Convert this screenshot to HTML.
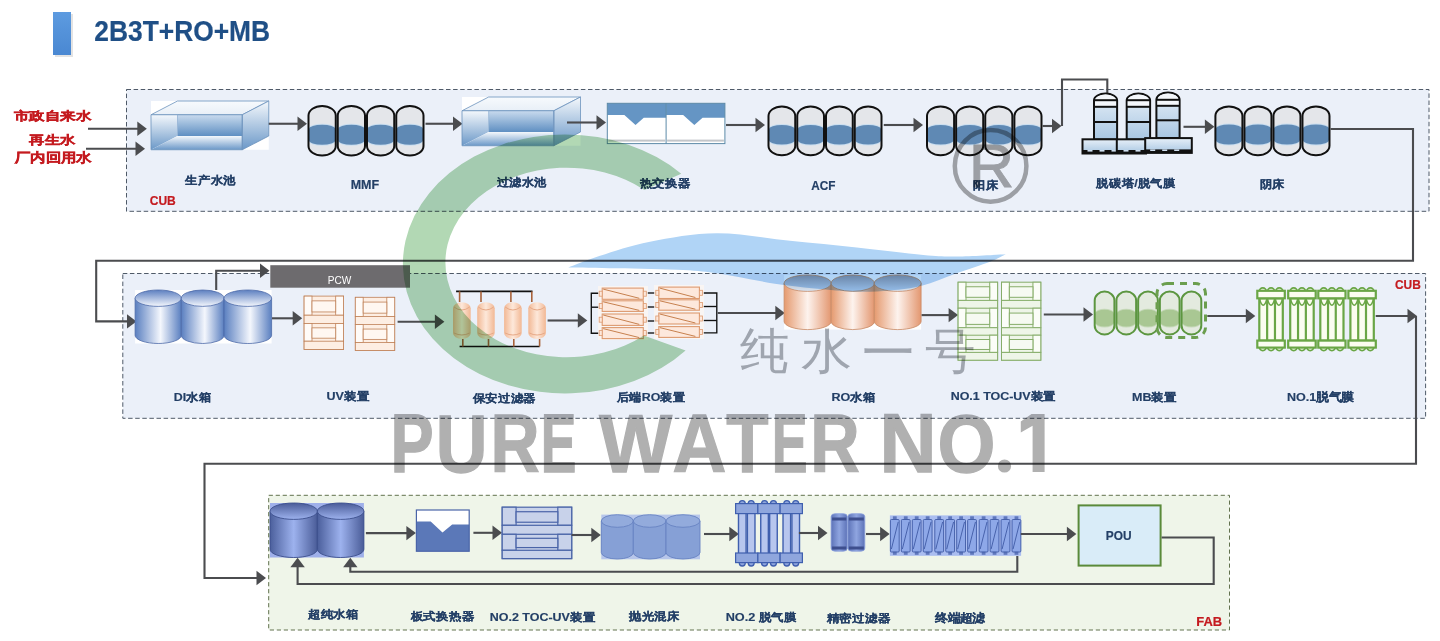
<!DOCTYPE html>
<html><head><meta charset="utf-8"><style>
html,body{margin:0;padding:0;background:#fff;overflow:hidden}
svg{display:block;font-family:"Liberation Sans",sans-serif}
</style></head><body>
<svg width="1440" height="641" viewBox="0 0 1440 641">

<defs>
 <linearGradient id="gBar" x1="0" y1="0" x2="0" y2="1">
  <stop offset="0" stop-color="#5d9be0"/><stop offset="1" stop-color="#4a88d2"/>
 </linearGradient>
 <linearGradient id="gBoxV" x1="0" y1="0" x2="0" y2="1">
  <stop offset="0" stop-color="#c9dbee"/><stop offset="1" stop-color="#5f8fc2"/>
 </linearGradient>
 <linearGradient id="gBoxV2" x1="0" y1="0" x2="0" y2="1">
  <stop offset="0" stop-color="#f4f8fc"/><stop offset="1" stop-color="#6b98c8"/>
 </linearGradient>
 <linearGradient id="gBoxTop" x1="0" y1="0" x2="0" y2="1">
  <stop offset="0" stop-color="#f7fafd"/><stop offset="1" stop-color="#e8eff7"/>
 </linearGradient>
 <linearGradient id="gTower" x1="0" y1="0" x2="0" y2="1">
  <stop offset="0" stop-color="#e6eff8"/><stop offset="1" stop-color="#a8c6e2"/>
 </linearGradient>
 <linearGradient id="gDI" x1="0" y1="0" x2="1" y2="0">
  <stop offset="0" stop-color="#5a7fc0"/><stop offset="0.55" stop-color="#f4f7fd"/><stop offset="1" stop-color="#5a7fc0"/>
 </linearGradient>
 <linearGradient id="gDItop" x1="0" y1="0" x2="0" y2="1">
  <stop offset="0" stop-color="#5c7fc0"/><stop offset="1" stop-color="#f4f7fd"/>
 </linearGradient>
 <linearGradient id="gRO" x1="0" y1="0" x2="1" y2="0">
  <stop offset="0" stop-color="#e59a6f"/><stop offset="0.5" stop-color="#fdf3ee"/><stop offset="1" stop-color="#e39770"/>
 </linearGradient>
 <linearGradient id="gROtop" x1="0" y1="0" x2="0" y2="1">
  <stop offset="0" stop-color="#9aa0ad"/><stop offset="1" stop-color="#d8e4f2"/>
 </linearGradient>
 <linearGradient id="gUP" x1="0" y1="0" x2="1" y2="0">
  <stop offset="0" stop-color="#4b5f9c"/><stop offset="0.5" stop-color="#9db2ee"/><stop offset="1" stop-color="#4a5c98"/>
 </linearGradient>
 <linearGradient id="gUPtop" x1="0" y1="0" x2="0" y2="1">
  <stop offset="0" stop-color="#4a5c98"/><stop offset="1" stop-color="#9db2ee"/>
 </linearGradient>
 <linearGradient id="gCart" x1="0" y1="0" x2="1" y2="0">
  <stop offset="0" stop-color="#f2b894"/><stop offset="0.5" stop-color="#fde8da"/><stop offset="1" stop-color="#f2b894"/>
 </linearGradient>
 <linearGradient id="gPf" x1="0" y1="0" x2="1" y2="0">
  <stop offset="0" stop-color="#5d73b8"/><stop offset="0.5" stop-color="#8fa5e0"/><stop offset="1" stop-color="#5d73b8"/>
 </linearGradient>
</defs>

<rect x="0" y="0" width="1440" height="641" fill="#ffffff"/>
<rect x="126.5" y="89.5" width="1302.5" height="121.8" fill="#ebf0f9" stroke="#4f5a68" stroke-width="1" stroke-dasharray="4.5 2.6"/>
<rect x="122.8" y="273.5" width="1302.8" height="144.8" fill="#ebf0f9" stroke="#4f5a68" stroke-width="1" stroke-dasharray="4.5 2.6"/>
<rect x="268.7" y="495.3" width="960.8" height="134.7" fill="#eff5e9" stroke="#62724e" stroke-width="1" stroke-dasharray="4.2 2.8"/>
<rect x="55" y="14" width="18" height="43" fill="#c8c8c8" opacity="0.5"/>
<rect x="53" y="12" width="18" height="43" fill="url(#gBar)"/>
<text transform="matrix(0.9422 0 0 1.0526 94.26 40.8)" font-size="28" font-weight="bold" fill="#1f4f86" stroke="#1f4f86" stroke-width="0.2" >2B3T+RO+MB</text>
<text transform="matrix(1.08 0 0 0.8357 13.5 119.63)" font-size="14" font-weight="bold" fill="#c41a1f" stroke="#c41a1f" stroke-width="0.5" >市政自来水</text>
<text transform="matrix(1.0881 0 0 0.8571 29.2 143.59)" font-size="14" font-weight="bold" fill="#c41a1f" stroke="#c41a1f" stroke-width="0.5" >再生水</text>
<text transform="matrix(1.0662 0 0 0.9 15.37 162.1)" font-size="14" font-weight="bold" fill="#c41a1f" stroke="#c41a1f" stroke-width="0.5" >厂内回用水</text>
<line x1="88" y1="128.7" x2="138.3" y2="128.7" stroke="#4b4c4f" stroke-width="2.1"/>
<path d="M137.3,121.49999999999999 L146.8,128.7 L137.3,135.89999999999998 Z" fill="#4b4c4f"/>
<line x1="86" y1="148.8" x2="136.5" y2="148.8" stroke="#4b4c4f" stroke-width="2.1"/>
<path d="M135.5,141.60000000000002 L145,148.8 L135.5,156.0 Z" fill="#4b4c4f"/>
<text transform="matrix(0.963 0 0 1.0222 149.7 205.1)" font-size="12.5" font-weight="bold" fill="#c41a1f" stroke="#c41a1f" stroke-width="0.2" >CUB</text>
<rect x="151" y="101" width="117.75" height="48.75" fill="#ffffff"/>
<path d="M151,114.75 L177.5,101 L268.75,101 L242.25,114.75 Z" fill="url(#gBoxTop)" stroke="#6b92bd" stroke-width="0.8"/>
<rect x="177.5" y="114.75" width="64.75" height="21.25" fill="url(#gBoxV)"/>
<path d="M151,114.75 L177.5,114.75 L177.5,136.0 L151,149.75 Z" fill="url(#gBoxV2)"/>
<path d="M151,149.75 L177.5,136.0 L242.25,136.0 L242.25,149.75 Z" fill="url(#gBoxV2)" />
<path d="M242.25,114.75 L268.75,101 L268.75,136.0 L242.25,149.75 Z" fill="url(#gBoxV2)" stroke="#6b92bd" stroke-width="0.8"/>
<path d="M151,114.75 L242.25,114.75 L242.25,149.75 L151,149.75 Z" fill="none" stroke="#6b92bd" stroke-width="0.8"/>
<line x1="177.5" y1="114.75" x2="177.5" y2="136.0" stroke="#8fb0d3" stroke-width="0.8"/>
<text transform="matrix(1.0187 0 0 0.9083 185.3 184.38)" font-size="12.3" font-weight="bold" fill="#233f66" stroke="#233f66" stroke-width="0.18" >生产水池</text>
<line x1="268.75" y1="123.75" x2="298.5" y2="123.75" stroke="#4b4c4f" stroke-width="2.1"/>
<path d="M297.5,116.55 L307,123.75 L297.5,130.95 Z" fill="#4b4c4f"/>
<rect x="308.50" y="106.00" width="27.25" height="49.50" rx="13.62" ry="9.5" fill="#e4e6ea"/>
<rect x="309.00" y="123.80" width="26.25" height="22.00" rx="13.62" ry="4.2" fill="#c9def0"/>
<rect x="309.00" y="124.80" width="26.25" height="20.00" rx="13.62" ry="4.2" fill="#5f89b4"/>
<rect x="308.50" y="106.00" width="27.25" height="49.50" rx="13.62" ry="9.5" fill="none" stroke="#111" stroke-width="2.0"/>
<rect x="337.75" y="106.00" width="27.25" height="49.50" rx="13.62" ry="9.5" fill="#e4e6ea"/>
<rect x="338.25" y="123.80" width="26.25" height="22.00" rx="13.62" ry="4.2" fill="#c9def0"/>
<rect x="338.25" y="124.80" width="26.25" height="20.00" rx="13.62" ry="4.2" fill="#5f89b4"/>
<rect x="337.75" y="106.00" width="27.25" height="49.50" rx="13.62" ry="9.5" fill="none" stroke="#111" stroke-width="2.0"/>
<rect x="367.00" y="106.00" width="27.25" height="49.50" rx="13.62" ry="9.5" fill="#e4e6ea"/>
<rect x="367.50" y="123.80" width="26.25" height="22.00" rx="13.62" ry="4.2" fill="#c9def0"/>
<rect x="367.50" y="124.80" width="26.25" height="20.00" rx="13.62" ry="4.2" fill="#5f89b4"/>
<rect x="367.00" y="106.00" width="27.25" height="49.50" rx="13.62" ry="9.5" fill="none" stroke="#111" stroke-width="2.0"/>
<rect x="396.25" y="106.00" width="27.25" height="49.50" rx="13.62" ry="9.5" fill="#e4e6ea"/>
<rect x="396.75" y="123.80" width="26.25" height="22.00" rx="13.62" ry="4.2" fill="#c9def0"/>
<rect x="396.75" y="124.80" width="26.25" height="20.00" rx="13.62" ry="4.2" fill="#5f89b4"/>
<rect x="396.25" y="106.00" width="27.25" height="49.50" rx="13.62" ry="9.5" fill="none" stroke="#111" stroke-width="2.0"/>
<text transform="matrix(1.0185 0 0 1.0222 350.68 189.2)" font-size="12.3" font-weight="bold" fill="#233f66" stroke="#233f66" stroke-width="0.18" >MMF</text>
<line x1="425.5" y1="123.75" x2="454.0" y2="123.75" stroke="#4b4c4f" stroke-width="2.1"/>
<path d="M453.0,116.55 L462.5,123.75 L453.0,130.95 Z" fill="#4b4c4f"/>
<rect x="462" y="97" width="118.5" height="48.75" fill="#ffffff"/>
<path d="M462,110.75 L488.6687898089172,97 L580.5,97 L553.8312101910828,110.75 Z" fill="url(#gBoxTop)" stroke="#6b92bd" stroke-width="0.8"/>
<rect x="488.6687898089172" y="110.75" width="65.16242038216565" height="21.25" fill="url(#gBoxV)"/>
<path d="M462,110.75 L488.6687898089172,110.75 L488.6687898089172,132.0 L462,145.75 Z" fill="url(#gBoxV2)"/>
<path d="M462,145.75 L488.6687898089172,132.0 L553.8312101910828,132.0 L553.8312101910828,145.75 Z" fill="url(#gBoxV2)" />
<path d="M553.8312101910828,110.75 L580.5,97 L580.5,132.0 L553.8312101910828,145.75 Z" fill="url(#gBoxV2)" stroke="#6b92bd" stroke-width="0.8"/>
<path d="M462,110.75 L553.8312101910828,110.75 L553.8312101910828,145.75 L462,145.75 Z" fill="none" stroke="#6b92bd" stroke-width="0.8"/>
<line x1="488.6687898089172" y1="110.75" x2="488.6687898089172" y2="132.0" stroke="#8fb0d3" stroke-width="0.8"/>
<text transform="matrix(1.0125 0 0 0.9167 496.7 186.17)" font-size="12.3" font-weight="bold" fill="#233f66" stroke="#233f66" stroke-width="0.18" >过滤水池</text>
<line x1="567" y1="122.5" x2="597.5" y2="122.5" stroke="#4b4c4f" stroke-width="2.1"/>
<path d="M596.5,115.3 L606,122.5 L596.5,129.7 Z" fill="#4b4c4f"/>
<rect x="607.3" y="103.3" width="117.60000000000002" height="40.3" fill="#ffffff"/>
<path d="M607.3,103.3 L666.0999999999999,103.3 L666.0999999999999,117.80799999999999 L643.756,117.80799999999999 L635.524,125.062 L624.352,114.987 L607.3,114.987 Z" fill="#6595c4"/>
<rect x="608.3" y="139.6" width="56.80000000000001" height="2" fill="#c3c6ca"/>
<path d="M666.0999999999999,103.3 L724.8999999999999,103.3 L724.8999999999999,117.80799999999999 L702.5559999999999,117.80799999999999 L694.324,125.062 L683.1519999999999,114.987 L666.0999999999999,114.987 Z" fill="#6595c4"/>
<rect x="667.0999999999999" y="139.6" width="56.80000000000001" height="2" fill="#c3c6ca"/>
<rect x="607.3" y="103.3" width="117.60000000000002" height="40.3" fill="none" stroke="#5d8aa8" stroke-width="1"/>
<line x1="666.0999999999999" y1="103.3" x2="666.0999999999999" y2="143.6" stroke="#5d8aa8" stroke-width="1"/>
<text transform="matrix(1.0125 0 0 0.9 639.7 186.95)" font-size="12.3" font-weight="bold" fill="#233f66" stroke="#233f66" stroke-width="0.18" >热交换器</text>
<line x1="726" y1="125" x2="756.5" y2="125" stroke="#4b4c4f" stroke-width="2.1"/>
<path d="M755.5,117.8 L765,125 L755.5,132.2 Z" fill="#4b4c4f"/>
<rect x="768.50" y="106.50" width="26.75" height="48.80" rx="13.38" ry="9.5" fill="#e4e6ea"/>
<rect x="769.00" y="124.00" width="25.75" height="21.50" rx="13.38" ry="4.2" fill="#c9def0"/>
<rect x="769.00" y="125.00" width="25.75" height="19.50" rx="13.38" ry="4.2" fill="#5f89b4"/>
<rect x="768.50" y="106.50" width="26.75" height="48.80" rx="13.38" ry="9.5" fill="none" stroke="#111" stroke-width="2.0"/>
<rect x="797.25" y="106.50" width="26.75" height="48.80" rx="13.38" ry="9.5" fill="#e4e6ea"/>
<rect x="797.75" y="124.00" width="25.75" height="21.50" rx="13.38" ry="4.2" fill="#c9def0"/>
<rect x="797.75" y="125.00" width="25.75" height="19.50" rx="13.38" ry="4.2" fill="#5f89b4"/>
<rect x="797.25" y="106.50" width="26.75" height="48.80" rx="13.38" ry="9.5" fill="none" stroke="#111" stroke-width="2.0"/>
<rect x="826.00" y="106.50" width="26.75" height="48.80" rx="13.38" ry="9.5" fill="#e4e6ea"/>
<rect x="826.50" y="124.00" width="25.75" height="21.50" rx="13.38" ry="4.2" fill="#c9def0"/>
<rect x="826.50" y="125.00" width="25.75" height="19.50" rx="13.38" ry="4.2" fill="#5f89b4"/>
<rect x="826.00" y="106.50" width="26.75" height="48.80" rx="13.38" ry="9.5" fill="none" stroke="#111" stroke-width="2.0"/>
<rect x="854.75" y="106.50" width="26.75" height="48.80" rx="13.38" ry="9.5" fill="#e4e6ea"/>
<rect x="855.25" y="124.00" width="25.75" height="21.50" rx="13.38" ry="4.2" fill="#c9def0"/>
<rect x="855.25" y="125.00" width="25.75" height="19.50" rx="13.38" ry="4.2" fill="#5f89b4"/>
<rect x="854.75" y="106.50" width="26.75" height="48.80" rx="13.38" ry="9.5" fill="none" stroke="#111" stroke-width="2.0"/>
<text transform="matrix(0.96 0 0 0.9667 811.3 190.0)" font-size="12.3" font-weight="bold" fill="#233f66" stroke="#233f66" stroke-width="0.18" >ACF</text>
<line x1="883.75" y1="125" x2="914.5" y2="125" stroke="#4b4c4f" stroke-width="2.1"/>
<path d="M913.5,117.8 L923,125 L913.5,132.2 Z" fill="#4b4c4f"/>
<rect x="927.00" y="106.50" width="27.12" height="48.80" rx="13.56" ry="9.5" fill="#e4e6ea"/>
<rect x="927.50" y="124.00" width="26.12" height="21.50" rx="13.56" ry="4.2" fill="#c9def0"/>
<rect x="927.50" y="125.00" width="26.12" height="19.50" rx="13.56" ry="4.2" fill="#5f89b4"/>
<rect x="927.00" y="106.50" width="27.12" height="48.80" rx="13.56" ry="9.5" fill="none" stroke="#111" stroke-width="2.0"/>
<rect x="956.12" y="106.50" width="27.12" height="48.80" rx="13.56" ry="9.5" fill="#e4e6ea"/>
<rect x="956.62" y="124.00" width="26.12" height="21.50" rx="13.56" ry="4.2" fill="#c9def0"/>
<rect x="956.62" y="125.00" width="26.12" height="19.50" rx="13.56" ry="4.2" fill="#5f89b4"/>
<rect x="956.12" y="106.50" width="27.12" height="48.80" rx="13.56" ry="9.5" fill="none" stroke="#111" stroke-width="2.0"/>
<rect x="985.25" y="106.50" width="27.12" height="48.80" rx="13.56" ry="9.5" fill="#e4e6ea"/>
<rect x="985.75" y="124.00" width="26.12" height="21.50" rx="13.56" ry="4.2" fill="#c9def0"/>
<rect x="985.75" y="125.00" width="26.12" height="19.50" rx="13.56" ry="4.2" fill="#5f89b4"/>
<rect x="985.25" y="106.50" width="27.12" height="48.80" rx="13.56" ry="9.5" fill="none" stroke="#111" stroke-width="2.0"/>
<rect x="1014.38" y="106.50" width="27.12" height="48.80" rx="13.56" ry="9.5" fill="#e4e6ea"/>
<rect x="1014.88" y="124.00" width="26.12" height="21.50" rx="13.56" ry="4.2" fill="#c9def0"/>
<rect x="1014.88" y="125.00" width="26.12" height="19.50" rx="13.56" ry="4.2" fill="#5f89b4"/>
<rect x="1014.38" y="106.50" width="27.12" height="48.80" rx="13.56" ry="9.5" fill="none" stroke="#111" stroke-width="2.0"/>
<text transform="matrix(1.0 0 0 0.9 973.0 189.0)" font-size="12.3" font-weight="bold" fill="#233f66" stroke="#233f66" stroke-width="0.18" >阳床</text>
<line x1="1042.5" y1="126" x2="1053.0" y2="126" stroke="#4b4c4f" stroke-width="2.1"/>
<path d="M1052.0,118.8 L1061.5,126 L1052.0,133.2 Z" fill="#4b4c4f"/>
<polyline points="1062,126 1062,79.5 1107.3,79.5 1107.3,94" fill="none" stroke="#4b4c4f" stroke-width="2.1" stroke-linejoin="miter"/>
<path d="M1094,139.5 L1094,100.2 A11.549999999999955,6.6000000000000085 0 0 1 1117.1,100.2 L1117.1,139.5 Z" fill="url(#gTower)" stroke="#111" stroke-width="2.0"/>
<path d="M1095,100.2 A10.549999999999955,5.6000000000000085 0 0 1 1116.1,100.2 Z" fill="#f4f7fb"/>
<rect x="1095" y="100.2" width="21.09999999999991" height="6.599999999999994" fill="#f4f7fb"/>
<line x1="1094" y1="100.2" x2="1117.1" y2="100.2" stroke="#111" stroke-width="2.0"/>
<line x1="1094" y1="106.8" x2="1117.1" y2="106.8" stroke="#111" stroke-width="2.0"/>
<line x1="1094" y1="122" x2="1117.1" y2="122" stroke="#111" stroke-width="2.0"/>
<path d="M1126.7,139.5 L1126.7,100.2 A11.699999999999932,6.6000000000000085 0 0 1 1150.1,100.2 L1150.1,139.5 Z" fill="url(#gTower)" stroke="#111" stroke-width="2.0"/>
<path d="M1127.7,100.2 A10.699999999999932,5.6000000000000085 0 0 1 1149.1,100.2 Z" fill="#f4f7fb"/>
<rect x="1127.7" y="100.2" width="21.399999999999864" height="6.599999999999994" fill="#f4f7fb"/>
<line x1="1126.7" y1="100.2" x2="1150.1" y2="100.2" stroke="#111" stroke-width="2.0"/>
<line x1="1126.7" y1="106.8" x2="1150.1" y2="106.8" stroke="#111" stroke-width="2.0"/>
<line x1="1126.7" y1="122" x2="1150.1" y2="122" stroke="#111" stroke-width="2.0"/>
<path d="M1156.4,138 L1156.4,99.8 A11.599999999999909,7.299999999999997 0 0 1 1179.6,99.8 L1179.6,138 Z" fill="url(#gTower)" stroke="#111" stroke-width="2.0"/>
<path d="M1157.4,99.8 A10.599999999999909,6.299999999999997 0 0 1 1178.6,99.8 Z" fill="#f4f7fb"/>
<rect x="1157.4" y="99.8" width="21.199999999999818" height="6.0" fill="#f4f7fb"/>
<line x1="1156.4" y1="99.8" x2="1179.6" y2="99.8" stroke="#111" stroke-width="2.0"/>
<line x1="1156.4" y1="105.8" x2="1179.6" y2="105.8" stroke="#111" stroke-width="2.0"/>
<line x1="1156.4" y1="120.3" x2="1179.6" y2="120.3" stroke="#111" stroke-width="2.0"/>
<rect x="1082.5" y="139.3" width="63.5" height="14.199999999999989" fill="url(#gTower)" stroke="#111" stroke-width="2.0"/>
<rect x="1082.5" y="150.0" width="63.5" height="3.5" fill="#111"/>
<rect x="1087.5" y="150.0" width="5" height="1.6" fill="#cfdff0"/>
<rect x="1099.5" y="150.0" width="5" height="1.6" fill="#cfdff0"/>
<rect x="1111.5" y="150.0" width="5" height="1.6" fill="#cfdff0"/>
<rect x="1123.5" y="150.0" width="5" height="1.6" fill="#cfdff0"/>
<rect x="1135.5" y="150.0" width="5" height="1.6" fill="#cfdff0"/>
<line x1="1116.8" y1="139.3" x2="1116.8" y2="153.5" stroke="#111" stroke-width="2.0"/>
<rect x="1145.2" y="138.1" width="46.59999999999991" height="14.800000000000011" fill="url(#gTower)" stroke="#111" stroke-width="2.0"/>
<rect x="1145.2" y="149.4" width="46.59999999999991" height="3.5" fill="#111"/>
<rect x="1150.2" y="149.4" width="5" height="1.6" fill="#cfdff0"/>
<rect x="1162.2" y="149.4" width="5" height="1.6" fill="#cfdff0"/>
<rect x="1174.2" y="149.4" width="5" height="1.6" fill="#cfdff0"/>
<text transform="matrix(1.0387 0 0 0.9333 1096.3 186.83)" font-size="12.3" font-weight="bold" fill="#233f66" stroke="#233f66" stroke-width="0.18" >脱碳塔/脱气膜</text>
<line x1="1183.5" y1="126.8" x2="1205.9" y2="126.8" stroke="#4b4c4f" stroke-width="2.1"/>
<path d="M1204.9,119.6 L1214.4,126.8 L1204.9,134.0 Z" fill="#4b4c4f"/>
<rect x="1215.40" y="106.40" width="27.02" height="48.90" rx="13.51" ry="9.5" fill="#e4e6ea"/>
<rect x="1215.90" y="123.50" width="26.02" height="22.00" rx="13.51" ry="4.2" fill="#c9def0"/>
<rect x="1215.90" y="124.50" width="26.02" height="20.00" rx="13.51" ry="4.2" fill="#5f89b4"/>
<rect x="1215.40" y="106.40" width="27.02" height="48.90" rx="13.51" ry="9.5" fill="none" stroke="#111" stroke-width="2.0"/>
<rect x="1244.43" y="106.40" width="27.02" height="48.90" rx="13.51" ry="9.5" fill="#e4e6ea"/>
<rect x="1244.93" y="123.50" width="26.02" height="22.00" rx="13.51" ry="4.2" fill="#c9def0"/>
<rect x="1244.93" y="124.50" width="26.02" height="20.00" rx="13.51" ry="4.2" fill="#5f89b4"/>
<rect x="1244.43" y="106.40" width="27.02" height="48.90" rx="13.51" ry="9.5" fill="none" stroke="#111" stroke-width="2.0"/>
<rect x="1273.45" y="106.40" width="27.02" height="48.90" rx="13.51" ry="9.5" fill="#e4e6ea"/>
<rect x="1273.95" y="123.50" width="26.02" height="22.00" rx="13.51" ry="4.2" fill="#c9def0"/>
<rect x="1273.95" y="124.50" width="26.02" height="20.00" rx="13.51" ry="4.2" fill="#5f89b4"/>
<rect x="1273.45" y="106.40" width="27.02" height="48.90" rx="13.51" ry="9.5" fill="none" stroke="#111" stroke-width="2.0"/>
<rect x="1302.47" y="106.40" width="27.02" height="48.90" rx="13.51" ry="9.5" fill="#e4e6ea"/>
<rect x="1302.97" y="123.50" width="26.02" height="22.00" rx="13.51" ry="4.2" fill="#c9def0"/>
<rect x="1302.97" y="124.50" width="26.02" height="20.00" rx="13.51" ry="4.2" fill="#5f89b4"/>
<rect x="1302.47" y="106.40" width="27.02" height="48.90" rx="13.51" ry="9.5" fill="none" stroke="#111" stroke-width="2.0"/>
<text transform="matrix(1.0 0 0 0.9 1259.7 188.2)" font-size="12.3" font-weight="bold" fill="#233f66" stroke="#233f66" stroke-width="0.18" >阴床</text>
<polyline points="1330.5,129 1413,129 1413,260.7 96.2,260.7 96.2,321.4 128,321.4" fill="none" stroke="#4b4c4f" stroke-width="2.1" stroke-linejoin="miter"/>
<path d="M127.0,314.2 L136.5,321.4 L127.0,328.59999999999997 Z" fill="#4b4c4f"/>
<rect x="270.3" y="265.2" width="139.7" height="22.5" fill="#6d6b6e"/>
<text transform="matrix(0.92 0 0 1.025 327.78 284.1)" font-size="11" font-weight="normal" fill="#ffffff" >PCW</text>
<polyline points="216.2,290 216.2,270.8 262,270.8" fill="none" stroke="#4b4c4f" stroke-width="2.1" stroke-linejoin="miter"/>
<path d="M260.0,263.6 L269.5,270.8 L260.0,278.0 Z" fill="#4b4c4f"/>
<rect x="135.1" y="290" width="136.50000000000003" height="53.5" fill="#ffffff"/>
<path d="M135.1,298.2 L135.1,335.3 A23.10000000000001,8.2 0 0 0 181.3,335.3 L181.3,298.2 Z" fill="url(#gDI)" stroke="#4d6aa8" stroke-width="0.8"/>
<ellipse cx="158.2" cy="298.2" rx="23.10000000000001" ry="8.2" fill="url(#gDItop)" stroke="#4d6aa8" stroke-width="0.8"/>
<path d="M181.3,298.2 L181.3,335.3 A21.349999999999994,8.2 0 0 0 224.0,335.3 L224.0,298.2 Z" fill="url(#gDI)" stroke="#4d6aa8" stroke-width="0.8"/>
<ellipse cx="202.65" cy="298.2" rx="21.349999999999994" ry="8.2" fill="url(#gDItop)" stroke="#4d6aa8" stroke-width="0.8"/>
<path d="M224.0,298.2 L224.0,335.3 A23.80000000000001,8.2 0 0 0 271.6,335.3 L271.6,298.2 Z" fill="url(#gDI)" stroke="#4d6aa8" stroke-width="0.8"/>
<ellipse cx="247.8" cy="298.2" rx="23.80000000000001" ry="8.2" fill="url(#gDItop)" stroke="#4d6aa8" stroke-width="0.8"/>
<text transform="matrix(1.0086 0 0 0.9 173.69 400.7)" font-size="12.3" font-weight="bold" fill="#233f66" stroke="#233f66" stroke-width="0.18" >DI水箱</text>
<line x1="272" y1="318.3" x2="293.7" y2="318.3" stroke="#4b4c4f" stroke-width="2.1"/>
<path d="M292.7,311.1 L302.2,318.3 L292.7,325.5 Z" fill="#4b4c4f"/>
<rect x="304.1" y="296.1" width="39.5" height="53.299999999999955" fill="#fdeee3" stroke="#bf8057" stroke-width="0.8"/>
<rect x="304.1" y="296.1" width="7.9" height="19.099999999999966" fill="#fffbf8" stroke="#bf8057" stroke-width="0.8"/>
<rect x="335.70000000000005" y="296.1" width="7.9" height="19.099999999999966" fill="#fffbf8" stroke="#bf8057" stroke-width="0.8"/>
<rect x="312.0" y="300.875" width="23.7" height="11.07799999999998" fill="#fff7f1" stroke="#bf8057" stroke-width="0.8"/>
<rect x="304.1" y="315.2" width="39.5" height="8.199999999999989" fill="#fdeee3" stroke="#bf8057" stroke-width="0.8"/>
<rect x="304.1" y="323.4" width="7.9" height="17.80000000000001" fill="#fffbf8" stroke="#bf8057" stroke-width="0.8"/>
<rect x="335.70000000000005" y="323.4" width="7.9" height="17.80000000000001" fill="#fffbf8" stroke="#bf8057" stroke-width="0.8"/>
<rect x="312.0" y="327.84999999999997" width="23.7" height="10.324000000000005" fill="#fff7f1" stroke="#bf8057" stroke-width="0.8"/>
<rect x="304.1" y="341.2" width="39.5" height="8.199999999999989" fill="#fdeee3" stroke="#bf8057" stroke-width="0.8"/>
<rect x="355.3" y="297.3" width="39.39999999999998" height="53.19999999999999" fill="#fdeee3" stroke="#bf8057" stroke-width="0.8"/>
<rect x="355.3" y="297.3" width="7.8799999999999955" height="19.099999999999966" fill="#fffbf8" stroke="#bf8057" stroke-width="0.8"/>
<rect x="386.82" y="297.3" width="7.8799999999999955" height="19.099999999999966" fill="#fffbf8" stroke="#bf8057" stroke-width="0.8"/>
<rect x="363.18" y="302.075" width="23.639999999999986" height="11.07799999999998" fill="#fff7f1" stroke="#bf8057" stroke-width="0.8"/>
<rect x="355.3" y="316.4" width="39.39999999999998" height="8.200000000000045" fill="#fdeee3" stroke="#bf8057" stroke-width="0.8"/>
<rect x="355.3" y="324.6" width="7.8799999999999955" height="17.799999999999955" fill="#fffbf8" stroke="#bf8057" stroke-width="0.8"/>
<rect x="386.82" y="324.6" width="7.8799999999999955" height="17.799999999999955" fill="#fffbf8" stroke="#bf8057" stroke-width="0.8"/>
<rect x="363.18" y="329.05" width="23.639999999999986" height="10.323999999999973" fill="#fff7f1" stroke="#bf8057" stroke-width="0.8"/>
<rect x="355.3" y="342.4" width="39.39999999999998" height="8.100000000000023" fill="#fdeee3" stroke="#bf8057" stroke-width="0.8"/>
<text transform="matrix(1.02 0 0 0.9 326.48 400.25)" font-size="12.3" font-weight="bold" fill="#233f66" stroke="#233f66" stroke-width="0.18" >UV装置</text>
<line x1="397.6" y1="321.8" x2="435.9" y2="321.8" stroke="#4b4c4f" stroke-width="2.1"/>
<path d="M434.9,314.6 L444.4,321.8 L434.9,329.0 Z" fill="#4b4c4f"/>
<line x1="456.1" y1="291.4" x2="532.5" y2="291.4" stroke="#111" stroke-width="1.6"/>
<line x1="459.6" y1="346.5" x2="539.6" y2="346.5" stroke="#111" stroke-width="1.6"/>
<line x1="459.6" y1="291.4" x2="459.6" y2="302" stroke="#a8623a" stroke-width="1.6"/>
<line x1="462.8" y1="339" x2="462.8" y2="346.5" stroke="#a8623a" stroke-width="1.6"/>
<rect x="453" y="302.2" width="17.69999999999999" height="36.9" rx="8.849999999999994" ry="6" fill="url(#gCart)"/>
<path d="M454,307 Q461.85,313 469.7,307" fill="none" stroke="#e7a987" stroke-width="1"/>
<path d="M454,333 Q461.85,337 469.7,333" fill="none" stroke="#e7a987" stroke-width="1"/>
<line x1="481" y1="291.4" x2="481" y2="302" stroke="#a8623a" stroke-width="1.6"/>
<line x1="488.5" y1="339" x2="488.5" y2="346.5" stroke="#a8623a" stroke-width="1.6"/>
<rect x="477.2" y="302.2" width="17.5" height="36.9" rx="8.75" ry="6" fill="url(#gCart)"/>
<path d="M478.2,307 Q485.95,313 493.7,307" fill="none" stroke="#e7a987" stroke-width="1"/>
<path d="M478.2,333 Q485.95,337 493.7,333" fill="none" stroke="#e7a987" stroke-width="1"/>
<line x1="510.9" y1="291.4" x2="510.9" y2="302" stroke="#a8623a" stroke-width="1.6"/>
<line x1="513.8" y1="339" x2="513.8" y2="346.5" stroke="#a8623a" stroke-width="1.6"/>
<rect x="504.1" y="302.2" width="17.600000000000023" height="36.9" rx="8.800000000000011" ry="6" fill="url(#gCart)"/>
<path d="M505.1,307 Q512.9000000000001,313 520.7,307" fill="none" stroke="#e7a987" stroke-width="1"/>
<path d="M505.1,333 Q512.9000000000001,337 520.7,333" fill="none" stroke="#e7a987" stroke-width="1"/>
<line x1="531.8" y1="291.4" x2="531.8" y2="302" stroke="#a8623a" stroke-width="1.6"/>
<line x1="539.6" y1="339" x2="539.6" y2="346.5" stroke="#a8623a" stroke-width="1.6"/>
<rect x="528.3" y="302.2" width="17.600000000000023" height="36.9" rx="8.800000000000011" ry="6" fill="url(#gCart)"/>
<path d="M529.3,307 Q537.0999999999999,313 544.9,307" fill="none" stroke="#e7a987" stroke-width="1"/>
<path d="M529.3,333 Q537.0999999999999,337 544.9,333" fill="none" stroke="#e7a987" stroke-width="1"/>
<text transform="matrix(1.0133 0 0 0.9 472.5 402.4)" font-size="12.3" font-weight="bold" fill="#233f66" stroke="#233f66" stroke-width="0.18" >保安过滤器</text>
<line x1="547.6" y1="320.5" x2="578.8" y2="320.5" stroke="#4b4c4f" stroke-width="2.1"/>
<path d="M577.8,313.3 L587.3,320.5 L577.8,327.7 Z" fill="#4b4c4f"/>
<polyline points="602,293.2 591.3,293.2 591.3,333.2 602,333.2" fill="none" stroke="#111" stroke-width="1.35"/>
<line x1="591.3" y1="307.2" x2="602" y2="307.2" stroke="#111" stroke-width="1.35"/>
<polyline points="703,293 716.8,293 716.8,332.8 703,332.8" fill="none" stroke="#111" stroke-width="1.35"/>
<line x1="703" y1="306.5" x2="716.8" y2="306.5" stroke="#111" stroke-width="1.35"/>
<line x1="703" y1="320.5" x2="716.8" y2="320.5" stroke="#111" stroke-width="1.35"/>
<line x1="645" y1="293" x2="656" y2="293" stroke="#111" stroke-width="1.35"/>
<line x1="645" y1="307" x2="656" y2="307" stroke="#111" stroke-width="1.35"/>
<line x1="645" y1="321" x2="656" y2="321" stroke="#111" stroke-width="1.35"/>
<line x1="645" y1="333" x2="656" y2="333" stroke="#111" stroke-width="1.35"/>
<rect x="598" y="286" width="50" height="54" fill="#fdf6f1" opacity="0.8"/>
<rect x="654" y="285" width="50" height="54" fill="#fdf6f1" opacity="0.8"/>
<rect x="602.2" y="288.1" width="41.09999999999991" height="11.199999999999989" fill="#fde8dc" stroke="#dd9a70" stroke-width="1.1"/>
<line x1="603.2" y1="289.1" x2="639.3" y2="298.3" stroke="#c7814f" stroke-width="1"/>
<rect x="599.2" y="291.20000000000005" width="3" height="5" fill="#fde8dc" stroke="#dd9a70" stroke-width="0.8"/>
<rect x="643.3" y="291.20000000000005" width="3" height="5" fill="#fde8dc" stroke="#dd9a70" stroke-width="0.8"/>
<rect x="602.2" y="300.8" width="41.09999999999991" height="10.599999999999966" fill="#fde8dc" stroke="#dd9a70" stroke-width="1.1"/>
<line x1="603.2" y1="301.8" x2="639.3" y2="310.4" stroke="#c7814f" stroke-width="1"/>
<rect x="599.2" y="303.6" width="3" height="5" fill="#fde8dc" stroke="#dd9a70" stroke-width="0.8"/>
<rect x="643.3" y="303.6" width="3" height="5" fill="#fde8dc" stroke="#dd9a70" stroke-width="0.8"/>
<rect x="602.2" y="314" width="41.09999999999991" height="11.399999999999977" fill="#fde8dc" stroke="#dd9a70" stroke-width="1.1"/>
<line x1="603.2" y1="315" x2="639.3" y2="324.4" stroke="#c7814f" stroke-width="1"/>
<rect x="599.2" y="317.2" width="3" height="5" fill="#fde8dc" stroke="#dd9a70" stroke-width="0.8"/>
<rect x="643.3" y="317.2" width="3" height="5" fill="#fde8dc" stroke="#dd9a70" stroke-width="0.8"/>
<rect x="602.2" y="327.6" width="41.09999999999991" height="11.0" fill="#fde8dc" stroke="#dd9a70" stroke-width="1.1"/>
<line x1="603.2" y1="328.6" x2="639.3" y2="337.6" stroke="#c7814f" stroke-width="1"/>
<rect x="599.2" y="330.6" width="3" height="5" fill="#fde8dc" stroke="#dd9a70" stroke-width="0.8"/>
<rect x="643.3" y="330.6" width="3" height="5" fill="#fde8dc" stroke="#dd9a70" stroke-width="0.8"/>
<rect x="658.8" y="287.1" width="40.60000000000002" height="11.399999999999977" fill="#fde8dc" stroke="#dd9a70" stroke-width="1.1"/>
<line x1="659.8" y1="288.1" x2="695.4" y2="297.5" stroke="#c7814f" stroke-width="1"/>
<rect x="655.8" y="290.3" width="3" height="5" fill="#fde8dc" stroke="#dd9a70" stroke-width="0.8"/>
<rect x="699.4" y="290.3" width="3" height="5" fill="#fde8dc" stroke="#dd9a70" stroke-width="0.8"/>
<rect x="658.8" y="299.8" width="40.60000000000002" height="10.399999999999977" fill="#fde8dc" stroke="#dd9a70" stroke-width="1.1"/>
<line x1="659.8" y1="300.8" x2="695.4" y2="309.2" stroke="#c7814f" stroke-width="1"/>
<rect x="655.8" y="302.5" width="3" height="5" fill="#fde8dc" stroke="#dd9a70" stroke-width="0.8"/>
<rect x="699.4" y="302.5" width="3" height="5" fill="#fde8dc" stroke="#dd9a70" stroke-width="0.8"/>
<rect x="658.8" y="313" width="40.60000000000002" height="11" fill="#fde8dc" stroke="#dd9a70" stroke-width="1.1"/>
<line x1="659.8" y1="314" x2="695.4" y2="323" stroke="#c7814f" stroke-width="1"/>
<rect x="655.8" y="316.0" width="3" height="5" fill="#fde8dc" stroke="#dd9a70" stroke-width="0.8"/>
<rect x="699.4" y="316.0" width="3" height="5" fill="#fde8dc" stroke="#dd9a70" stroke-width="0.8"/>
<rect x="658.8" y="326.6" width="40.60000000000002" height="10.799999999999955" fill="#fde8dc" stroke="#dd9a70" stroke-width="1.1"/>
<line x1="659.8" y1="327.6" x2="695.4" y2="336.4" stroke="#c7814f" stroke-width="1"/>
<rect x="655.8" y="329.5" width="3" height="5" fill="#fde8dc" stroke="#dd9a70" stroke-width="0.8"/>
<rect x="699.4" y="329.5" width="3" height="5" fill="#fde8dc" stroke="#dd9a70" stroke-width="0.8"/>
<text transform="matrix(1.0091 0 0 0.9167 616.7 401.17)" font-size="12.3" font-weight="bold" fill="#233f66" stroke="#233f66" stroke-width="0.18" >后端RO装置</text>
<line x1="717.7" y1="313" x2="776.3" y2="313" stroke="#4b4c4f" stroke-width="2.1"/>
<path d="M775.3,305.8 L784.8,313 L775.3,320.2 Z" fill="#4b4c4f"/>
<rect x="784.1" y="275" width="137.0" height="54.60000000000002" fill="#ffffff"/>
<path d="M784.1,283.2 L784.1,321.40000000000003 A23.55000000000001,8.2 0 0 0 831.2,321.40000000000003 L831.2,283.2 Z" fill="url(#gRO)" stroke="#c88a66" stroke-width="0.8"/>
<ellipse cx="807.6500000000001" cy="283.2" rx="23.55000000000001" ry="8.2" fill="url(#gROtop)" stroke="#c88a66" stroke-width="0.8"/>
<path d="M831.2,283.2 L831.2,321.40000000000003 A21.549999999999955,8.2 0 0 0 874.3,321.40000000000003 L874.3,283.2 Z" fill="url(#gRO)" stroke="#c88a66" stroke-width="0.8"/>
<ellipse cx="852.75" cy="283.2" rx="21.549999999999955" ry="8.2" fill="url(#gROtop)" stroke="#c88a66" stroke-width="0.8"/>
<path d="M874.3,283.2 L874.3,321.40000000000003 A23.400000000000034,8.2 0 0 0 921.1,321.40000000000003 L921.1,283.2 Z" fill="url(#gRO)" stroke="#c88a66" stroke-width="0.8"/>
<ellipse cx="897.7" cy="283.2" rx="23.400000000000034" ry="8.2" fill="url(#gROtop)" stroke="#c88a66" stroke-width="0.8"/>
<text transform="matrix(1.0171 0 0 0.9 831.48 400.7)" font-size="12.3" font-weight="bold" fill="#233f66" stroke="#233f66" stroke-width="0.18" >RO水箱</text>
<line x1="921.6" y1="315.1" x2="949.6" y2="315.1" stroke="#4b4c4f" stroke-width="2.1"/>
<path d="M948.6,307.90000000000003 L958.1,315.1 L948.6,322.3 Z" fill="#4b4c4f"/>
<rect x="958.1" y="282.2" width="39.5" height="78.0" fill="#eef5e8" stroke="#86ad6a" stroke-width="1.0"/>
<rect x="958.1" y="282.2" width="7.9" height="18.19999999999999" fill="#fbfdf8" stroke="#86ad6a" stroke-width="1.0"/>
<rect x="989.7" y="282.2" width="7.9" height="18.19999999999999" fill="#fbfdf8" stroke="#86ad6a" stroke-width="1.0"/>
<rect x="966.0" y="286.75" width="23.7" height="10.555999999999992" fill="#f6faf2" stroke="#86ad6a" stroke-width="1.0"/>
<rect x="958.1" y="300.4" width="39.5" height="7.800000000000011" fill="#eef5e8" stroke="#86ad6a" stroke-width="1.0"/>
<rect x="958.1" y="308.2" width="7.9" height="19.5" fill="#fbfdf8" stroke="#86ad6a" stroke-width="1.0"/>
<rect x="989.7" y="308.2" width="7.9" height="19.5" fill="#fbfdf8" stroke="#86ad6a" stroke-width="1.0"/>
<rect x="966.0" y="313.075" width="23.7" height="11.309999999999999" fill="#f6faf2" stroke="#86ad6a" stroke-width="1.0"/>
<rect x="958.1" y="327.7" width="39.5" height="7.5" fill="#eef5e8" stroke="#86ad6a" stroke-width="1.0"/>
<rect x="958.1" y="335.2" width="7.9" height="17.19999999999999" fill="#fbfdf8" stroke="#86ad6a" stroke-width="1.0"/>
<rect x="989.7" y="335.2" width="7.9" height="17.19999999999999" fill="#fbfdf8" stroke="#86ad6a" stroke-width="1.0"/>
<rect x="966.0" y="339.5" width="23.7" height="9.975999999999992" fill="#f6faf2" stroke="#86ad6a" stroke-width="1.0"/>
<rect x="958.1" y="352.4" width="39.5" height="7.800000000000011" fill="#eef5e8" stroke="#86ad6a" stroke-width="1.0"/>
<rect x="1001.5" y="282.2" width="39.299999999999955" height="78.0" fill="#eef5e8" stroke="#86ad6a" stroke-width="1.0"/>
<rect x="1001.5" y="282.2" width="7.859999999999991" height="18.19999999999999" fill="#fbfdf8" stroke="#86ad6a" stroke-width="1.0"/>
<rect x="1032.94" y="282.2" width="7.859999999999991" height="18.19999999999999" fill="#fbfdf8" stroke="#86ad6a" stroke-width="1.0"/>
<rect x="1009.36" y="286.75" width="23.57999999999997" height="10.555999999999992" fill="#f6faf2" stroke="#86ad6a" stroke-width="1.0"/>
<rect x="1001.5" y="300.4" width="39.299999999999955" height="7.800000000000011" fill="#eef5e8" stroke="#86ad6a" stroke-width="1.0"/>
<rect x="1001.5" y="308.2" width="7.859999999999991" height="19.5" fill="#fbfdf8" stroke="#86ad6a" stroke-width="1.0"/>
<rect x="1032.94" y="308.2" width="7.859999999999991" height="19.5" fill="#fbfdf8" stroke="#86ad6a" stroke-width="1.0"/>
<rect x="1009.36" y="313.075" width="23.57999999999997" height="11.309999999999999" fill="#f6faf2" stroke="#86ad6a" stroke-width="1.0"/>
<rect x="1001.5" y="327.7" width="39.299999999999955" height="7.5" fill="#eef5e8" stroke="#86ad6a" stroke-width="1.0"/>
<rect x="1001.5" y="335.2" width="7.859999999999991" height="17.19999999999999" fill="#fbfdf8" stroke="#86ad6a" stroke-width="1.0"/>
<rect x="1032.94" y="335.2" width="7.859999999999991" height="17.19999999999999" fill="#fbfdf8" stroke="#86ad6a" stroke-width="1.0"/>
<rect x="1009.36" y="339.5" width="23.57999999999997" height="9.975999999999992" fill="#f6faf2" stroke="#86ad6a" stroke-width="1.0"/>
<rect x="1001.5" y="352.4" width="39.299999999999955" height="7.800000000000011" fill="#eef5e8" stroke="#86ad6a" stroke-width="1.0"/>
<text transform="matrix(1.0127 0 0 0.9 950.69 400.25)" font-size="12.3" font-weight="bold" fill="#233f66" stroke="#233f66" stroke-width="0.18" >NO.1 TOC-UV装置</text>
<line x1="1043.8" y1="314.5" x2="1084.5" y2="314.5" stroke="#4b4c4f" stroke-width="2.1"/>
<path d="M1083.5,307.3 L1093,314.5 L1083.5,321.7 Z" fill="#4b4c4f"/>
<rect x="1094.70" y="291.60" width="19.72" height="42.90" rx="9.86" ry="9" fill="#e3eadf"/>
<rect x="1095.20" y="308.80" width="18.72" height="18.70" rx="9.86" ry="4.2" fill="#c6d9b9"/>
<rect x="1095.20" y="309.80" width="18.72" height="16.70" rx="9.86" ry="4.2" fill="#a9c793"/>
<rect x="1094.70" y="291.60" width="19.72" height="42.90" rx="9.86" ry="9" fill="none" stroke="#5c9640" stroke-width="2.0"/>
<rect x="1116.42" y="291.60" width="19.72" height="42.90" rx="9.86" ry="9" fill="#e3eadf"/>
<rect x="1116.92" y="308.80" width="18.72" height="18.70" rx="9.86" ry="4.2" fill="#c6d9b9"/>
<rect x="1116.92" y="309.80" width="18.72" height="16.70" rx="9.86" ry="4.2" fill="#a9c793"/>
<rect x="1116.42" y="291.60" width="19.72" height="42.90" rx="9.86" ry="9" fill="none" stroke="#5c9640" stroke-width="2.0"/>
<rect x="1138.14" y="291.60" width="19.72" height="42.90" rx="9.86" ry="9" fill="#e3eadf"/>
<rect x="1138.64" y="308.80" width="18.72" height="18.70" rx="9.86" ry="4.2" fill="#c6d9b9"/>
<rect x="1138.64" y="309.80" width="18.72" height="16.70" rx="9.86" ry="4.2" fill="#a9c793"/>
<rect x="1138.14" y="291.60" width="19.72" height="42.90" rx="9.86" ry="9" fill="none" stroke="#5c9640" stroke-width="2.0"/>
<rect x="1159.86" y="291.60" width="19.72" height="42.90" rx="9.86" ry="9" fill="#e3eadf"/>
<rect x="1160.36" y="308.80" width="18.72" height="18.70" rx="9.86" ry="4.2" fill="#c6d9b9"/>
<rect x="1160.36" y="309.80" width="18.72" height="16.70" rx="9.86" ry="4.2" fill="#a9c793"/>
<rect x="1159.86" y="291.60" width="19.72" height="42.90" rx="9.86" ry="9" fill="none" stroke="#5c9640" stroke-width="2.0"/>
<rect x="1181.58" y="291.60" width="19.72" height="42.90" rx="9.86" ry="9" fill="#e3eadf"/>
<rect x="1182.08" y="308.80" width="18.72" height="18.70" rx="9.86" ry="4.2" fill="#c6d9b9"/>
<rect x="1182.08" y="309.80" width="18.72" height="16.70" rx="9.86" ry="4.2" fill="#a9c793"/>
<rect x="1181.58" y="291.60" width="19.72" height="42.90" rx="9.86" ry="9" fill="none" stroke="#5c9640" stroke-width="2.0"/>
<rect x="1157" y="283.5" width="48.5" height="54" rx="10" ry="10" fill="none" stroke="#6b9e4e" stroke-width="3" stroke-dasharray="7 6"/>
<text transform="matrix(1.019 0 0 0.9 1131.98 401.35)" font-size="12.3" font-weight="bold" fill="#233f66" stroke="#233f66" stroke-width="0.18" >MB装置</text>
<line x1="1207.3" y1="316" x2="1246.8" y2="316" stroke="#4b4c4f" stroke-width="2.1"/>
<path d="M1245.8,308.8 L1255.3,316 L1245.8,323.2 Z" fill="#4b4c4f"/>
<ellipse cx="1262.8" cy="291.8" rx="3.6" ry="4" fill="#fbfdf0" stroke="#6aa646" stroke-width="1.7600000000000002"/>
<ellipse cx="1262.8" cy="346.6" rx="3.6" ry="4" fill="#fbfdf0" stroke="#6aa646" stroke-width="1.7600000000000002"/>
<ellipse cx="1271.05" cy="291.8" rx="3.6" ry="4" fill="#fbfdf0" stroke="#6aa646" stroke-width="1.7600000000000002"/>
<ellipse cx="1271.05" cy="346.6" rx="3.6" ry="4" fill="#fbfdf0" stroke="#6aa646" stroke-width="1.7600000000000002"/>
<ellipse cx="1279.3" cy="291.8" rx="3.6" ry="4" fill="#fbfdf0" stroke="#6aa646" stroke-width="1.7600000000000002"/>
<ellipse cx="1279.3" cy="346.6" rx="3.6" ry="4" fill="#fbfdf0" stroke="#6aa646" stroke-width="1.7600000000000002"/>
<rect x="1259.3" y="298.3" width="23.5" height="42.30000000000001" fill="#fbfdf0" stroke="#6aa646" stroke-width="2.2"/>
<line x1="1267.1333333333332" y1="298.3" x2="1267.1333333333332" y2="340.6" stroke="#6aa646" stroke-width="2.2"/>
<line x1="1274.9666666666667" y1="298.3" x2="1274.9666666666667" y2="340.6" stroke="#6aa646" stroke-width="2.2"/>
<path d="M1259.3,298.3 Q1263.2166666666667,312.3 1267.1333333333332,298.3" fill="none" stroke="#6aa646" stroke-width="1.54"/>
<path d="M1267.1333333333332,298.3 Q1271.05,312.3 1274.9666666666667,298.3" fill="none" stroke="#6aa646" stroke-width="1.54"/>
<path d="M1274.9666666666667,298.3 Q1278.8833333333332,312.3 1282.8,298.3" fill="none" stroke="#6aa646" stroke-width="1.54"/>
<rect x="1257.3" y="290.8" width="27.5" height="7.5" fill="#fbfdf0" stroke="#6aa646" stroke-width="2.2"/>
<rect x="1257.3" y="340.6" width="27.5" height="7.0" fill="#fbfdf0" stroke="#6aa646" stroke-width="2.2"/>
<ellipse cx="1293.7" cy="291.8" rx="3.6" ry="4" fill="#fbfdf0" stroke="#6aa646" stroke-width="1.7600000000000002"/>
<ellipse cx="1293.7" cy="346.6" rx="3.6" ry="4" fill="#fbfdf0" stroke="#6aa646" stroke-width="1.7600000000000002"/>
<ellipse cx="1301.95" cy="291.8" rx="3.6" ry="4" fill="#fbfdf0" stroke="#6aa646" stroke-width="1.7600000000000002"/>
<ellipse cx="1301.95" cy="346.6" rx="3.6" ry="4" fill="#fbfdf0" stroke="#6aa646" stroke-width="1.7600000000000002"/>
<ellipse cx="1310.2" cy="291.8" rx="3.6" ry="4" fill="#fbfdf0" stroke="#6aa646" stroke-width="1.7600000000000002"/>
<ellipse cx="1310.2" cy="346.6" rx="3.6" ry="4" fill="#fbfdf0" stroke="#6aa646" stroke-width="1.7600000000000002"/>
<rect x="1290.2" y="298.3" width="23.5" height="42.30000000000001" fill="#fbfdf0" stroke="#6aa646" stroke-width="2.2"/>
<line x1="1298.0333333333333" y1="298.3" x2="1298.0333333333333" y2="340.6" stroke="#6aa646" stroke-width="2.2"/>
<line x1="1305.8666666666668" y1="298.3" x2="1305.8666666666668" y2="340.6" stroke="#6aa646" stroke-width="2.2"/>
<path d="M1290.2,298.3 Q1294.1166666666668,312.3 1298.0333333333333,298.3" fill="none" stroke="#6aa646" stroke-width="1.54"/>
<path d="M1298.0333333333333,298.3 Q1301.95,312.3 1305.8666666666668,298.3" fill="none" stroke="#6aa646" stroke-width="1.54"/>
<path d="M1305.8666666666668,298.3 Q1309.7833333333333,312.3 1313.7,298.3" fill="none" stroke="#6aa646" stroke-width="1.54"/>
<rect x="1288.2" y="290.8" width="27.5" height="7.5" fill="#fbfdf0" stroke="#6aa646" stroke-width="2.2"/>
<rect x="1288.2" y="340.6" width="27.5" height="7.0" fill="#fbfdf0" stroke="#6aa646" stroke-width="2.2"/>
<ellipse cx="1323.74" cy="291.8" rx="3.6" ry="4" fill="#fbfdf0" stroke="#6aa646" stroke-width="1.7600000000000002"/>
<ellipse cx="1323.74" cy="346.6" rx="3.6" ry="4" fill="#fbfdf0" stroke="#6aa646" stroke-width="1.7600000000000002"/>
<ellipse cx="1331.9" cy="291.8" rx="3.6" ry="4" fill="#fbfdf0" stroke="#6aa646" stroke-width="1.7600000000000002"/>
<ellipse cx="1331.9" cy="346.6" rx="3.6" ry="4" fill="#fbfdf0" stroke="#6aa646" stroke-width="1.7600000000000002"/>
<ellipse cx="1340.06" cy="291.8" rx="3.6" ry="4" fill="#fbfdf0" stroke="#6aa646" stroke-width="1.7600000000000002"/>
<ellipse cx="1340.06" cy="346.6" rx="3.6" ry="4" fill="#fbfdf0" stroke="#6aa646" stroke-width="1.7600000000000002"/>
<rect x="1320.3" y="298.3" width="23.200000000000045" height="42.30000000000001" fill="#fbfdf0" stroke="#6aa646" stroke-width="2.2"/>
<line x1="1328.0333333333333" y1="298.3" x2="1328.0333333333333" y2="340.6" stroke="#6aa646" stroke-width="2.2"/>
<line x1="1335.7666666666667" y1="298.3" x2="1335.7666666666667" y2="340.6" stroke="#6aa646" stroke-width="2.2"/>
<path d="M1320.3,298.3 Q1324.1666666666665,312.3 1328.0333333333333,298.3" fill="none" stroke="#6aa646" stroke-width="1.54"/>
<path d="M1328.0333333333333,298.3 Q1331.9,312.3 1335.7666666666667,298.3" fill="none" stroke="#6aa646" stroke-width="1.54"/>
<path d="M1335.7666666666667,298.3 Q1339.6333333333332,312.3 1343.5,298.3" fill="none" stroke="#6aa646" stroke-width="1.54"/>
<rect x="1318.3" y="290.8" width="27.200000000000045" height="7.5" fill="#fbfdf0" stroke="#6aa646" stroke-width="2.2"/>
<rect x="1318.3" y="340.6" width="27.200000000000045" height="7.0" fill="#fbfdf0" stroke="#6aa646" stroke-width="2.2"/>
<ellipse cx="1353.88" cy="291.8" rx="3.6" ry="4" fill="#fbfdf0" stroke="#6aa646" stroke-width="1.7600000000000002"/>
<ellipse cx="1353.88" cy="346.6" rx="3.6" ry="4" fill="#fbfdf0" stroke="#6aa646" stroke-width="1.7600000000000002"/>
<ellipse cx="1362.1" cy="291.8" rx="3.6" ry="4" fill="#fbfdf0" stroke="#6aa646" stroke-width="1.7600000000000002"/>
<ellipse cx="1362.1" cy="346.6" rx="3.6" ry="4" fill="#fbfdf0" stroke="#6aa646" stroke-width="1.7600000000000002"/>
<ellipse cx="1370.32" cy="291.8" rx="3.6" ry="4" fill="#fbfdf0" stroke="#6aa646" stroke-width="1.7600000000000002"/>
<ellipse cx="1370.32" cy="346.6" rx="3.6" ry="4" fill="#fbfdf0" stroke="#6aa646" stroke-width="1.7600000000000002"/>
<rect x="1350.4" y="298.3" width="23.399999999999864" height="42.30000000000001" fill="#fbfdf0" stroke="#6aa646" stroke-width="2.2"/>
<line x1="1358.2" y1="298.3" x2="1358.2" y2="340.6" stroke="#6aa646" stroke-width="2.2"/>
<line x1="1366.0" y1="298.3" x2="1366.0" y2="340.6" stroke="#6aa646" stroke-width="2.2"/>
<path d="M1350.4,298.3 Q1354.3000000000002,312.3 1358.2,298.3" fill="none" stroke="#6aa646" stroke-width="1.54"/>
<path d="M1358.2,298.3 Q1362.1,312.3 1366.0,298.3" fill="none" stroke="#6aa646" stroke-width="1.54"/>
<path d="M1366.0,298.3 Q1369.9,312.3 1373.8,298.3" fill="none" stroke="#6aa646" stroke-width="1.54"/>
<rect x="1348.4" y="290.8" width="27.399999999999864" height="7.5" fill="#fbfdf0" stroke="#6aa646" stroke-width="2.2"/>
<rect x="1348.4" y="340.6" width="27.399999999999864" height="7.0" fill="#fbfdf0" stroke="#6aa646" stroke-width="2.2"/>
<text transform="matrix(1.0203 0 0 0.95 1286.98 400.95)" font-size="12.3" font-weight="bold" fill="#233f66" stroke="#233f66" stroke-width="0.18" >NO.1脱气膜</text>
<text transform="matrix(0.9556 0 0 1.0222 1394.9 289.0)" font-size="12.5" font-weight="bold" fill="#c41a1f" stroke="#c41a1f" stroke-width="0.2" >CUB</text>
<polyline points="1375.7,316 1408,316" fill="none" stroke="#4b4c4f" stroke-width="2.1" stroke-linejoin="miter"/>
<path d="M1407.5,308.8 L1417,316 L1407.5,323.2 Z" fill="#4b4c4f"/>
<polyline points="1416,316 1416,463.8 204.5,463.8 204.5,578 258,578" fill="none" stroke="#4b4c4f" stroke-width="2.1" stroke-linejoin="miter"/>
<path d="M256.5,570.8 L266,578 L256.5,585.2 Z" fill="#4b4c4f"/>
<rect x="270" y="503" width="93.89999999999998" height="54.5" fill="#9fb0ea"/>
<path d="M270,511.2 L270,549.3 A23.69999999999999,8.2 0 0 0 317.4,549.3 L317.4,511.2 Z" fill="url(#gUP)" stroke="#3c4f8c" stroke-width="0.9"/>
<ellipse cx="293.7" cy="511.2" rx="23.69999999999999" ry="8.2" fill="url(#gUPtop)" stroke="#3c4f8c" stroke-width="0.9"/>
<path d="M317.4,511.2 L317.4,549.3 A23.25,8.2 0 0 0 363.9,549.3 L363.9,511.2 Z" fill="url(#gUP)" stroke="#3c4f8c" stroke-width="0.9"/>
<ellipse cx="340.65" cy="511.2" rx="23.25" ry="8.2" fill="url(#gUPtop)" stroke="#3c4f8c" stroke-width="0.9"/>
<text transform="matrix(1.0208 0 0 0.9 308.0 618.2)" font-size="12.3" font-weight="bold" fill="#233f66" stroke="#233f66" stroke-width="0.18" >超纯水箱</text>
<line x1="365.9" y1="533.1" x2="407.4" y2="533.1" stroke="#4b4c4f" stroke-width="2.1"/>
<path d="M406.4,525.9 L415.9,533.1 L406.4,540.3000000000001 Z" fill="#4b4c4f"/>
<rect x="416.4" y="510" width="52.8" height="41.25" fill="#ffffff"/>
<path d="M416.4,521.4 L430.7,521.4 L442.5,532.5 L452.2,524.6 L469.2,524.6 L469.2,551.25 L416.4,551.25 Z" fill="#5b78b8"/>
<rect x="416.4" y="510" width="52.8" height="41.25" fill="none" stroke="#4a64a8" stroke-width="1.2"/>
<text transform="matrix(1.015 0 0 0.9 410.8 620.25)" font-size="12.3" font-weight="bold" fill="#233f66" stroke="#233f66" stroke-width="0.18" >板式换热器</text>
<line x1="473.4" y1="532.8" x2="493.5" y2="532.8" stroke="#4b4c4f" stroke-width="2.1"/>
<path d="M492.5,525.5999999999999 L502,532.8 L492.5,540.0 Z" fill="#4b4c4f"/>
<rect x="502.2" y="507.2" width="69.50000000000006" height="51.400000000000034" fill="#c8d2ea" stroke="#4a64a8" stroke-width="1.2"/>
<rect x="502.2" y="507.2" width="13.900000000000013" height="18.099999999999966" fill="#c8d2ea" stroke="#4a64a8" stroke-width="1.2"/>
<rect x="557.8000000000001" y="507.2" width="13.900000000000013" height="18.099999999999966" fill="#c8d2ea" stroke="#4a64a8" stroke-width="1.2"/>
<rect x="516.1" y="511.72499999999997" width="41.70000000000003" height="10.49799999999998" fill="#c8d2ea" stroke="#4a64a8" stroke-width="1.2"/>
<rect x="502.2" y="525.3" width="69.50000000000006" height="9.0" fill="#c8d2ea" stroke="#4a64a8" stroke-width="1.2"/>
<rect x="502.2" y="534.3" width="13.900000000000013" height="16.0" fill="#c8d2ea" stroke="#4a64a8" stroke-width="1.2"/>
<rect x="557.8000000000001" y="534.3" width="13.900000000000013" height="16.0" fill="#c8d2ea" stroke="#4a64a8" stroke-width="1.2"/>
<rect x="516.1" y="538.3" width="41.70000000000003" height="9.28" fill="#c8d2ea" stroke="#4a64a8" stroke-width="1.2"/>
<rect x="502.2" y="550.3" width="69.50000000000006" height="8.300000000000068" fill="#c8d2ea" stroke="#4a64a8" stroke-width="1.2"/>
<text transform="matrix(1.0137 0 0 0.9 489.79 620.7)" font-size="12.3" font-weight="bold" fill="#233f66" stroke="#233f66" stroke-width="0.18" >NO.2 TOC-UV装置</text>
<line x1="571.5" y1="535" x2="592.3" y2="535" stroke="#4b4c4f" stroke-width="2.1"/>
<path d="M591.3,527.8 L600.8,535 L591.3,542.2 Z" fill="#4b4c4f"/>
<rect x="601.3" y="514.6" width="98.7" height="44.7" fill="#b7c6ea"/>
<path d="M601.3,521 L601.3,552.5 A16.0,6.5 0 0 0 633.3,552.5 L633.3,521 Z" fill="#86a0d6" stroke="#6682c2" stroke-width="0.9"/>
<ellipse cx="617.3" cy="521" rx="16.0" ry="6.3" fill="#93abdc" stroke="#6682c2" stroke-width="0.9"/>
<path d="M633.3,521 L633.3,552.5 A16.350000000000023,6.5 0 0 0 666,552.5 L666,521 Z" fill="#86a0d6" stroke="#6682c2" stroke-width="0.9"/>
<ellipse cx="649.65" cy="521" rx="16.350000000000023" ry="6.3" fill="#93abdc" stroke="#6682c2" stroke-width="0.9"/>
<path d="M666,521 L666,552.5 A17.0,6.5 0 0 0 700,552.5 L700,521 Z" fill="#86a0d6" stroke="#6682c2" stroke-width="0.9"/>
<ellipse cx="683.0" cy="521" rx="17.0" ry="6.3" fill="#93abdc" stroke="#6682c2" stroke-width="0.9"/>
<text transform="matrix(1.0062 0 0 0.9 629.2 620.25)" font-size="12.3" font-weight="bold" fill="#233f66" stroke="#233f66" stroke-width="0.18" >抛光混床</text>
<line x1="704" y1="534" x2="730.3" y2="534" stroke="#4b4c4f" stroke-width="2.1"/>
<path d="M729.3,526.8 L738.8,534 L729.3,541.2 Z" fill="#4b4c4f"/>
<ellipse cx="742.28" cy="504.1" rx="3" ry="3.5" fill="#8fa6dd" stroke="#3f5fae" stroke-width="1.4"/>
<ellipse cx="742.28" cy="562.5" rx="3" ry="3.5" fill="#8fa6dd" stroke="#3f5fae" stroke-width="1.4"/>
<rect x="738.48" y="510.6" width="7.6" height="44.89999999999998" fill="#b7c6ee" stroke="#3f5fae" stroke-width="1.4"/>
<ellipse cx="751.1866666666667" cy="504.1" rx="3" ry="3.5" fill="#8fa6dd" stroke="#3f5fae" stroke-width="1.4"/>
<ellipse cx="751.1866666666667" cy="562.5" rx="3" ry="3.5" fill="#8fa6dd" stroke="#3f5fae" stroke-width="1.4"/>
<rect x="747.3866666666668" y="510.6" width="7.6" height="44.89999999999998" fill="#b7c6ee" stroke="#3f5fae" stroke-width="1.4"/>
<rect x="735.6" y="503.6" width="22.26666666666665" height="10" fill="#8fa6dd" stroke="#3f5fae" stroke-width="1.2"/>
<rect x="735.6" y="553.0" width="22.26666666666665" height="9.6" fill="#8fa6dd" stroke="#3f5fae" stroke-width="1.2"/>
<ellipse cx="764.5466666666666" cy="504.1" rx="3" ry="3.5" fill="#8fa6dd" stroke="#3f5fae" stroke-width="1.4"/>
<ellipse cx="764.5466666666666" cy="562.5" rx="3" ry="3.5" fill="#8fa6dd" stroke="#3f5fae" stroke-width="1.4"/>
<rect x="760.7466666666667" y="510.6" width="7.6" height="44.89999999999998" fill="#b7c6ee" stroke="#3f5fae" stroke-width="1.4"/>
<ellipse cx="773.4533333333334" cy="504.1" rx="3" ry="3.5" fill="#8fa6dd" stroke="#3f5fae" stroke-width="1.4"/>
<ellipse cx="773.4533333333334" cy="562.5" rx="3" ry="3.5" fill="#8fa6dd" stroke="#3f5fae" stroke-width="1.4"/>
<rect x="769.6533333333334" y="510.6" width="7.6" height="44.89999999999998" fill="#b7c6ee" stroke="#3f5fae" stroke-width="1.4"/>
<rect x="757.8666666666667" y="503.6" width="22.26666666666665" height="10" fill="#8fa6dd" stroke="#3f5fae" stroke-width="1.2"/>
<rect x="757.8666666666667" y="553.0" width="22.26666666666665" height="9.6" fill="#8fa6dd" stroke="#3f5fae" stroke-width="1.2"/>
<ellipse cx="786.8133333333333" cy="504.1" rx="3" ry="3.5" fill="#8fa6dd" stroke="#3f5fae" stroke-width="1.4"/>
<ellipse cx="786.8133333333333" cy="562.5" rx="3" ry="3.5" fill="#8fa6dd" stroke="#3f5fae" stroke-width="1.4"/>
<rect x="783.0133333333333" y="510.6" width="7.6" height="44.89999999999998" fill="#b7c6ee" stroke="#3f5fae" stroke-width="1.4"/>
<ellipse cx="795.72" cy="504.1" rx="3" ry="3.5" fill="#8fa6dd" stroke="#3f5fae" stroke-width="1.4"/>
<ellipse cx="795.72" cy="562.5" rx="3" ry="3.5" fill="#8fa6dd" stroke="#3f5fae" stroke-width="1.4"/>
<rect x="791.9200000000001" y="510.6" width="7.6" height="44.89999999999998" fill="#b7c6ee" stroke="#3f5fae" stroke-width="1.4"/>
<rect x="780.1333333333333" y="503.6" width="22.26666666666665" height="10" fill="#8fa6dd" stroke="#3f5fae" stroke-width="1.2"/>
<rect x="780.1333333333333" y="553.0" width="22.26666666666665" height="9.6" fill="#8fa6dd" stroke="#3f5fae" stroke-width="1.2"/>
<text transform="matrix(1.0313 0 0 0.9167 725.67 621.17)" font-size="12.3" font-weight="bold" fill="#233f66" stroke="#233f66" stroke-width="0.18" >NO.2 脱气膜</text>
<line x1="798.9" y1="533" x2="819.0" y2="533" stroke="#4b4c4f" stroke-width="2.1"/>
<path d="M818.0,525.8 L827.5,533 L818.0,540.2 Z" fill="#4b4c4f"/>
<rect x="831.1" y="513.7" width="16.199999999999932" height="37.5" rx="4" ry="3" fill="url(#gPf)" stroke="#8aa0dc" stroke-width="0.8"/>
<rect x="832.1" y="517.5" width="14.199999999999932" height="3" fill="#3e4f8e"/>
<rect x="832.1" y="546.5" width="14.199999999999932" height="3" fill="#3e4f8e"/>
<rect x="847.9" y="513.7" width="16.899999999999977" height="37.5" rx="4" ry="3" fill="url(#gPf)" stroke="#8aa0dc" stroke-width="0.8"/>
<rect x="848.9" y="517.5" width="14.899999999999977" height="3" fill="#3e4f8e"/>
<rect x="848.9" y="546.5" width="14.899999999999977" height="3" fill="#3e4f8e"/>
<text transform="matrix(1.0267 0 0 0.9 826.7 622.15)" font-size="12.3" font-weight="bold" fill="#233f66" stroke="#233f66" stroke-width="0.18" >精密过滤器</text>
<line x1="866" y1="534" x2="881.1" y2="534" stroke="#4b4c4f" stroke-width="2.1"/>
<path d="M880.1,526.8 L889.6,534 L880.1,541.2 Z" fill="#4b4c4f"/>
<rect x="889.9" y="515.4" width="131.2" height="40.4" fill="#aabdf0"/>
<rect x="890.4" y="519.5" width="8.8" height="32.5" rx="1" fill="#8ea8e8" stroke="#3f5aa5" stroke-width="0.9"/>
<rect x="892.9" y="516.3" width="3.8" height="3" fill="#3f5aa5" opacity="0.7"/>
<rect x="892.9" y="551.8" width="3.8" height="3" fill="#3f5aa5" opacity="0.7"/>
<line x1="891.4" y1="549" x2="898.1999999999999" y2="522" stroke="#3f5aa5" stroke-width="0.9"/>
<rect x="901.35" y="519.5" width="8.8" height="32.5" rx="1" fill="#8ea8e8" stroke="#3f5aa5" stroke-width="0.9"/>
<rect x="903.85" y="516.3" width="3.8" height="3" fill="#3f5aa5" opacity="0.7"/>
<rect x="903.85" y="551.8" width="3.8" height="3" fill="#3f5aa5" opacity="0.7"/>
<line x1="902.35" y1="549" x2="909.15" y2="522" stroke="#3f5aa5" stroke-width="0.9"/>
<rect x="912.3" y="519.5" width="8.8" height="32.5" rx="1" fill="#8ea8e8" stroke="#3f5aa5" stroke-width="0.9"/>
<rect x="914.8" y="516.3" width="3.8" height="3" fill="#3f5aa5" opacity="0.7"/>
<rect x="914.8" y="551.8" width="3.8" height="3" fill="#3f5aa5" opacity="0.7"/>
<line x1="913.3" y1="549" x2="920.0999999999999" y2="522" stroke="#3f5aa5" stroke-width="0.9"/>
<rect x="923.25" y="519.5" width="8.8" height="32.5" rx="1" fill="#8ea8e8" stroke="#3f5aa5" stroke-width="0.9"/>
<rect x="925.75" y="516.3" width="3.8" height="3" fill="#3f5aa5" opacity="0.7"/>
<rect x="925.75" y="551.8" width="3.8" height="3" fill="#3f5aa5" opacity="0.7"/>
<line x1="924.25" y1="549" x2="931.05" y2="522" stroke="#3f5aa5" stroke-width="0.9"/>
<rect x="934.8" y="519.5" width="8.8" height="32.5" rx="1" fill="#8ea8e8" stroke="#3f5aa5" stroke-width="0.9"/>
<rect x="937.3" y="516.3" width="3.8" height="3" fill="#3f5aa5" opacity="0.7"/>
<rect x="937.3" y="551.8" width="3.8" height="3" fill="#3f5aa5" opacity="0.7"/>
<line x1="935.8" y1="549" x2="942.5999999999999" y2="522" stroke="#3f5aa5" stroke-width="0.9"/>
<rect x="945.75" y="519.5" width="8.8" height="32.5" rx="1" fill="#8ea8e8" stroke="#3f5aa5" stroke-width="0.9"/>
<rect x="948.25" y="516.3" width="3.8" height="3" fill="#3f5aa5" opacity="0.7"/>
<rect x="948.25" y="551.8" width="3.8" height="3" fill="#3f5aa5" opacity="0.7"/>
<line x1="946.75" y1="549" x2="953.55" y2="522" stroke="#3f5aa5" stroke-width="0.9"/>
<rect x="956.6999999999999" y="519.5" width="8.8" height="32.5" rx="1" fill="#8ea8e8" stroke="#3f5aa5" stroke-width="0.9"/>
<rect x="959.1999999999999" y="516.3" width="3.8" height="3" fill="#3f5aa5" opacity="0.7"/>
<rect x="959.1999999999999" y="551.8" width="3.8" height="3" fill="#3f5aa5" opacity="0.7"/>
<line x1="957.6999999999999" y1="549" x2="964.4999999999999" y2="522" stroke="#3f5aa5" stroke-width="0.9"/>
<rect x="967.65" y="519.5" width="8.8" height="32.5" rx="1" fill="#8ea8e8" stroke="#3f5aa5" stroke-width="0.9"/>
<rect x="970.15" y="516.3" width="3.8" height="3" fill="#3f5aa5" opacity="0.7"/>
<rect x="970.15" y="551.8" width="3.8" height="3" fill="#3f5aa5" opacity="0.7"/>
<line x1="968.65" y1="549" x2="975.4499999999999" y2="522" stroke="#3f5aa5" stroke-width="0.9"/>
<rect x="979.2" y="519.5" width="8.8" height="32.5" rx="1" fill="#8ea8e8" stroke="#3f5aa5" stroke-width="0.9"/>
<rect x="981.7" y="516.3" width="3.8" height="3" fill="#3f5aa5" opacity="0.7"/>
<rect x="981.7" y="551.8" width="3.8" height="3" fill="#3f5aa5" opacity="0.7"/>
<line x1="980.2" y1="549" x2="987.0" y2="522" stroke="#3f5aa5" stroke-width="0.9"/>
<rect x="990.15" y="519.5" width="8.8" height="32.5" rx="1" fill="#8ea8e8" stroke="#3f5aa5" stroke-width="0.9"/>
<rect x="992.65" y="516.3" width="3.8" height="3" fill="#3f5aa5" opacity="0.7"/>
<rect x="992.65" y="551.8" width="3.8" height="3" fill="#3f5aa5" opacity="0.7"/>
<line x1="991.15" y1="549" x2="997.9499999999999" y2="522" stroke="#3f5aa5" stroke-width="0.9"/>
<rect x="1001.1" y="519.5" width="8.8" height="32.5" rx="1" fill="#8ea8e8" stroke="#3f5aa5" stroke-width="0.9"/>
<rect x="1003.6" y="516.3" width="3.8" height="3" fill="#3f5aa5" opacity="0.7"/>
<rect x="1003.6" y="551.8" width="3.8" height="3" fill="#3f5aa5" opacity="0.7"/>
<line x1="1002.1" y1="549" x2="1008.9" y2="522" stroke="#3f5aa5" stroke-width="0.9"/>
<rect x="1012.05" y="519.5" width="8.8" height="32.5" rx="1" fill="#8ea8e8" stroke="#3f5aa5" stroke-width="0.9"/>
<rect x="1014.55" y="516.3" width="3.8" height="3" fill="#3f5aa5" opacity="0.7"/>
<rect x="1014.55" y="551.8" width="3.8" height="3" fill="#3f5aa5" opacity="0.7"/>
<line x1="1013.05" y1="549" x2="1019.8499999999999" y2="522" stroke="#3f5aa5" stroke-width="0.9"/>
<text transform="matrix(1.0271 0 0 0.95 935.1 621.9)" font-size="12.3" font-weight="bold" fill="#233f66" stroke="#233f66" stroke-width="0.18" >终端超滤</text>
<line x1="1020.8" y1="534" x2="1067.9" y2="534" stroke="#4b4c4f" stroke-width="2.1"/>
<path d="M1066.9,526.8 L1076.4,534 L1066.9,541.2 Z" fill="#4b4c4f"/>
<rect x="1078.6" y="505.4" width="82" height="60.2" fill="#d9ecf8" stroke="#5a8a3a" stroke-width="2"/>
<text transform="matrix(0.9538 0 0 0.9889 1105.75 540.0)" font-size="12.5" font-weight="bold" fill="#233f66" stroke="#233f66" stroke-width="0.2" >POU</text>
<text transform="matrix(1.0375 0 0 0.9889 1196.26 626.2)" font-size="12.5" font-weight="bold" fill="#c41a1f" stroke="#c41a1f" stroke-width="0.2" >FAB</text>
<polyline points="1161.6,537.5 1213.7,537.5 1213.7,584 297.6,584 297.6,566" fill="none" stroke="#4b4c4f" stroke-width="2.1" stroke-linejoin="miter"/>
<path d="M290.40000000000003,567.3 L297.6,557.8 L304.8,567.3 Z" fill="#4b4c4f"/>
<polyline points="1017.3,556 1017.3,571.7 350.3,571.7 350.3,566" fill="none" stroke="#4b4c4f" stroke-width="2.1" stroke-linejoin="miter"/>
<path d="M343.1,567.3 L350.3,557.8 L357.5,567.3 Z" fill="#4b4c4f"/>
<path fill="#b2d8b4" style="mix-blend-mode:multiply" d="M681.25,173.65 A162.1,129.5 0 1 0 685.60,350.43 L643.75,335.40 A121.0,94.8 0 1 1 644.40,190.03 Z"/>
<path fill="#b0d4f6" style="mix-blend-mode:multiply" d="M568.3,267.5 C573.6,265.6 586.4,260.1 600.0,255.8 C613.6,251.5 630.5,245.4 650.0,241.7 C669.5,237.9 693.4,233.5 716.7,233.3 C740.0,233.2 766.7,238.4 790.0,240.8 C813.3,243.2 834.5,245.1 856.7,247.5 C878.9,249.9 906.6,253.5 923.3,255.0 C940.0,256.5 943.0,256.6 956.7,256.5 C970.5,256.4 997.6,254.6 1005.8,254.2 C1003.2,255.4 998.2,258.5 990.0,261.7 C981.8,264.9 968.1,269.3 956.7,273.3 C945.3,277.3 932.8,282.9 921.7,285.8 C910.6,288.7 902.0,289.6 890.0,290.5 C878.0,291.4 866.7,292.3 850.0,291.5 C833.3,290.7 806.7,287.9 790.0,285.8 C773.3,283.8 762.2,281.3 750.0,279.2 C737.8,277.1 727.8,274.8 716.7,273.3 C705.6,271.8 700.0,270.8 683.3,270.0 C666.6,269.2 635.9,268.7 616.7,268.3 C597.5,267.9 576.4,267.6 568.3,267.5 Z"/>
<text transform="matrix(0.964 0 0 0.9792 739.9 368.32)" font-size="51.5" font-weight="normal" fill="#adafb3" style="mix-blend-mode:multiply">纯</text>
<text transform="matrix(0.9979 0 0 0.94 801.2 367.62)" font-size="51.5" font-weight="normal" fill="#adafb3" style="mix-blend-mode:multiply">水</text>
<text transform="matrix(1.0191 0 0 1.125 861.56 372.75)" font-size="51.5" font-weight="normal" fill="#adafb3" style="mix-blend-mode:multiply">一</text>
<text transform="matrix(0.9776 0 0 0.9479 924.92 367.56)" font-size="51.5" font-weight="normal" fill="#adafb3" style="mix-blend-mode:multiply">号</text>
<text transform="matrix(0.7894 0 0 1.0089 390.55 471.9)" font-size="82" font-weight="bold" fill="#b0b0b0" style="mix-blend-mode:multiply" stroke="#b0b0b0" stroke-width="1.3">P</text>
<text transform="matrix(0.8735 0 0 1.0018 435.63 471.5)" font-size="82" font-weight="bold" fill="#b0b0b0" style="mix-blend-mode:multiply" stroke="#b0b0b0" stroke-width="1.3">U</text>
<text transform="matrix(0.8288 0 0 0.9912 490.56 470.91)" font-size="82" font-weight="bold" fill="#b0b0b0" style="mix-blend-mode:multiply" stroke="#b0b0b0" stroke-width="1.3">R</text>
<text transform="matrix(0.6511 0 0 1.0089 540.64 471.9)" font-size="82" font-weight="bold" fill="#b0b0b0" style="mix-blend-mode:multiply" stroke="#b0b0b0" stroke-width="1.3">E</text>
<text transform="matrix(0.9416 0 0 0.9912 599.2 471.9)" font-size="82" font-weight="bold" fill="#b0b0b0" style="mix-blend-mode:multiply" stroke="#b0b0b0" stroke-width="1.3">W</text>
<text transform="matrix(0.9091 0 0 0.9912 672.38 470.91)" font-size="82" font-weight="bold" fill="#b0b0b0" style="mix-blend-mode:multiply" stroke="#b0b0b0" stroke-width="1.3">A</text>
<text transform="matrix(0.8438 0 0 1.0089 726.16 471.9)" font-size="82" font-weight="bold" fill="#b0b0b0" style="mix-blend-mode:multiply" stroke="#b0b0b0" stroke-width="1.3">T</text>
<text transform="matrix(0.6553 0 0 1.0089 771.72 471.9)" font-size="82" font-weight="bold" fill="#b0b0b0" style="mix-blend-mode:multiply" stroke="#b0b0b0" stroke-width="1.3">E</text>
<text transform="matrix(0.8346 0 0 0.9912 810.13 470.91)" font-size="82" font-weight="bold" fill="#b0b0b0" style="mix-blend-mode:multiply" stroke="#b0b0b0" stroke-width="1.3">R</text>
<text transform="matrix(0.9633 0 0 1.0089 879.48 471.9)" font-size="82" font-weight="bold" fill="#b0b0b0" style="mix-blend-mode:multiply" stroke="#b0b0b0" stroke-width="1.3">N</text>
<text transform="matrix(0.9088 0 0 1.0052 937.47 471.79)" font-size="82" font-weight="bold" fill="#b0b0b0" style="mix-blend-mode:multiply" stroke="#b0b0b0" stroke-width="1.3">O</text>
<circle cx="1004.5" cy="466.0" r="6.6" fill="#b0b0b0" style="mix-blend-mode:multiply"/>
<path d="M1032.6,472 L1044.6,472 L1044.6,414 L1031.5,414 L1020.8,421.5 L1020.8,432.6 L1032.6,425.8 Z" fill="#b0b0b0" style="mix-blend-mode:multiply"/>
<circle cx="990.6" cy="165.9" r="35.8" fill="none" stroke="#a9a9a9" stroke-width="4.5" style="mix-blend-mode:multiply"/>
<text transform="matrix(1.0 0 0 0.9814 968.8 187.4)" font-size="63" font-weight="normal" fill="#a9a9a9" style="mix-blend-mode:multiply" stroke="#a9a9a9" stroke-width="0.9">R</text>
</svg>
</body></html>
